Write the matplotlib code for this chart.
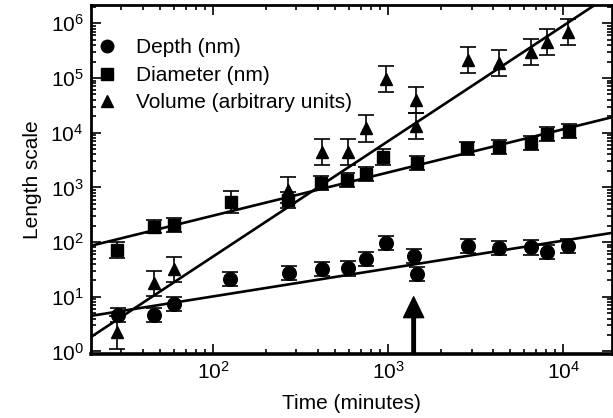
import matplotlib
matplotlib.use("Agg")
import matplotlib.pyplot as plt
import numpy as np
from matplotlib.lines import Line2D
from matplotlib.ticker import NullFormatter

plt.rcParams['font.family'] = ['Liberation Sans', 'DejaVu Sans']
plt.rcParams['font.size'] = 15

# data (log-log)
time_depth = [28.6, 46, 60, 126, 272, 419, 589, 746, 970, 1400, 1460, 2870, 4290, 6530, 8060, 10720]
depth = [4.7, 4.6, 7.3, 21, 27.6, 32, 33, 48.5, 95, 56, 26, 86, 79, 80, 67, 86]
depth_err = [0.13] * 16  # half-width in decades

time_diam = [28.5, 46, 60, 127, 268, 415, 582, 750, 940, 1470, 2810, 4300, 6530, 8130, 10790]
diameter = [72, 191, 205, 548, 589, 1190, 1365, 1760, 3640, 2760, 5190, 5550, 6560, 9470, 10900]
diam_err = [0.15, 0.12, 0.12, 0.2, 0.15, 0.13, 0.13, 0.12, 0.15, 0.13, 0.12, 0.13, 0.13, 0.13, 0.13]

time_vol = [28.2, 46, 60, 268, 419, 589, 746, 970, 1440, 1440, 2870, 4290, 6530, 8060, 10720]
volume = [2.24, 17.7, 32, 896, 4500, 4500, 12000, 96000, 39600, 13300, 213000, 186000, 303000, 461000, 703000]
vol_err = [0.3, 0.23, 0.23, 0.24, 0.24, 0.24, 0.24, 0.24, 0.24, 0.24, 0.24, 0.24, 0.24, 0.24, 0.24]

# power-law fits y = A * t**b
fit_depth = (0.97, 0.51)
fit_diam = (8.0, 0.79)
fit_vol = (0.00327, 2.11)

arrow_time = 1400
arrow_tip = 10

labels = ["Depth (nm)", "Diameter (nm)", "Volume (arbitrary units)"]
markers = ['o', 's', '^']


def log_err(y, e):
    y = np.asarray(y, dtype=float)
    e = np.asarray(e, dtype=float)
    return [y - y * 10 ** -e, y * 10 ** e - y]


fig = plt.figure(figsize=(6.13, 4.18), dpi=100)
ax = fig.add_axes([90.5 / 613, 1 - 354 / 418, (612 - 90.5) / 613, 349.4 / 418])
ax.set_xscale('log')
ax.set_yscale('log')
ax.set_xlim(20, 1.9e4)
ax.set_ylim(0.9, 2.2e6)

series = [(time_depth, depth, depth_err, 9.8),
          (time_diam, diameter, diam_err, 8.8),
          (time_vol, volume, vol_err, 9.3)]
for (t, y, e, ms), m in zip(series, markers):
    ax.errorbar(t, y, yerr=log_err(y, e), fmt=m, color='k', ms=ms,
                ecolor='k', elinewidth=1.2, capsize=5.5, capthick=1.2)

tt = np.logspace(np.log10(20), np.log10(1.9e4), 200)
for A, b in (fit_depth, fit_diam, fit_vol):
    ax.plot(tt, A * tt ** b, color='k', lw=1.9)

ax.annotate('', xy=(arrow_time, arrow_tip), xytext=(arrow_time, 0.9),
            arrowprops=dict(facecolor='k', edgecolor='k', width=2.5,
                            headwidth=14.5, headlength=15, shrink=0))

handles = [Line2D([], [], marker=m, ls='none', color='k', ms=9) for m in markers]
ax.legend(handles, labels, loc='upper left', bbox_to_anchor=(0.012, 0.903),
          frameon=False, borderpad=0, borderaxespad=0, handlelength=1.0,
          handletextpad=0.9, labelspacing=0.4, fontsize=15)

ax.xaxis.set_minor_formatter(NullFormatter())
ax.yaxis.set_minor_formatter(NullFormatter())
ax.tick_params(which='both', direction='in', top=True, right=True, width=1.2)
ax.tick_params(which='major', length=7, pad=5, labelsize=15)
ax.tick_params(which='minor', length=3.5)
for s in ax.spines.values():
    s.set_linewidth(2)
ax.spines['bottom'].set_linewidth(2.6)

ax.set_xlabel("Time (minutes)", fontsize=15, labelpad=8)
ax.set_ylabel("Length scale", fontsize=15, labelpad=6)

fig.savefig("out.png", dpi=100)
